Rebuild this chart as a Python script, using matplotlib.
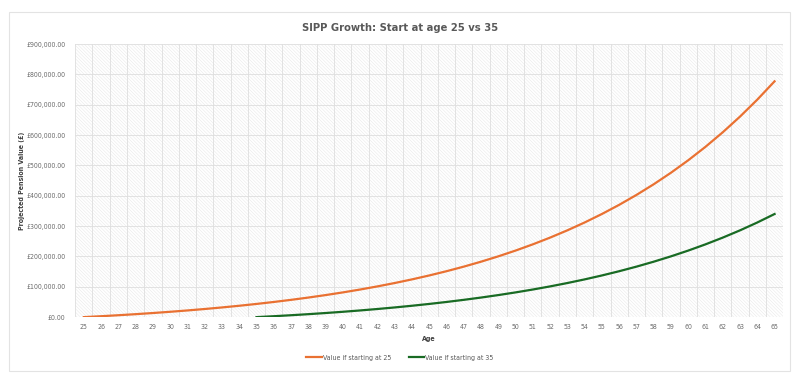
import matplotlib.pyplot as plt
import numpy as np
from matplotlib.patches import Rectangle
from matplotlib.ticker import FuncFormatter, MultipleLocator

plt.rcParams['font.family'] = ['DejaVu Sans']
plt.rcParams['font.stretch'] = 'condensed'
plt.rcParams['hatch.linewidth'] = 0.35
plt.rcParams['hatch.color'] = '#e6e6e6'

# 数据
ages = list(range(25, 66))
start_25 = [0, 3000, 6240, 9739, 13518, 17600, 22008, 26768, 31910, 37463,
            43460, 49936, 56931, 64486, 72645, 81456, 90973, 101251, 112351, 124339,
            137286, 151269, 166370, 182680, 200294, 219318, 239863, 262052, 286017, 311898,
            339850, 370038, 402641, 437852, 475880, 516950, 561306, 609211, 660948, 716824,
            777170]
start_35 = [None] * 10 + [0, 3000, 6240, 9739, 13518, 17600, 22008, 26768, 31910, 37463,
                          43460, 49936, 56931, 64486, 72645, 81456, 90973, 101251, 112351, 124339,
                          137286, 151269, 166370, 182680, 200294, 219318, 239863, 262052, 286017, 311898,
                          339850]
labels = ['Value if starting at 25', 'Value if starting at 35']
colors = ['#E97132', '#196B24']

fig = plt.figure(figsize=(8, 3.83), dpi=100)
# 外框
fig.patches.append(Rectangle((0.011, 0.031), 0.977, 0.938, transform=fig.transFigure,
                             fill=False, edgecolor='#e3e3e3', linewidth=0.8))

ax = fig.add_axes([0.094, 0.172, 0.885, 0.713])
ax.set_facecolor('white')
bg = Rectangle((0, 0), 1, 1, transform=ax.transAxes, facecolor='white',
               hatch='\\' * 10, edgecolor='#e6e6e6', linewidth=0, zorder=0)
ax.add_patch(bg)

y35 = np.array([np.nan if v is None else v for v in start_35], dtype=float)
ax.plot(ages, start_25, color=colors[0], linewidth=1.6, label=labels[0], zorder=3)
ax.plot(ages, y35, color=colors[1], linewidth=1.6, label=labels[1], zorder=3)

ax.set_xlim(24.5, 65.5)
ax.set_ylim(0, 900000)
ax.set_xticks(ages)
ax.set_xticks(np.arange(24.5, 66, 1), minor=True)
ax.yaxis.set_major_locator(MultipleLocator(100000))
ax.yaxis.set_major_formatter(FuncFormatter(lambda v, p: '£{:,.2f}'.format(v)))
ax.grid(True, which='minor', axis='x', color='#dedede', linewidth=0.6, zorder=1)
ax.grid(True, which='major', axis='y', color='#dedede', linewidth=0.6, zorder=1)
ax.tick_params(which='both', length=0, labelsize=5, labelcolor='#6b6b6b')
ax.tick_params(axis='x', pad=5)
ax.tick_params(axis='y', pad=7)
for s in ax.spines.values():
    s.set_visible(False)

ax.set_xlabel('Age', fontsize=5, fontweight='bold', color='#404040', labelpad=4)
ax.set_ylabel('Projected Pension Value (£)', fontsize=5, fontweight='bold', color='#404040', labelpad=1)
fig.text(0.5, 0.928, 'SIPP Growth: Start at age 25 vs 35', ha='center', va='center',
         fontsize=8, fontweight='bold', color='#595959')

fig.legend(loc='center', bbox_to_anchor=(0.5, 0.066), ncol=2, frameon=False, fontsize=5,
           handlelength=2.2, handletextpad=0.2, columnspacing=2.5, labelcolor='#595959')

fig.savefig('out.png', dpi=100)
